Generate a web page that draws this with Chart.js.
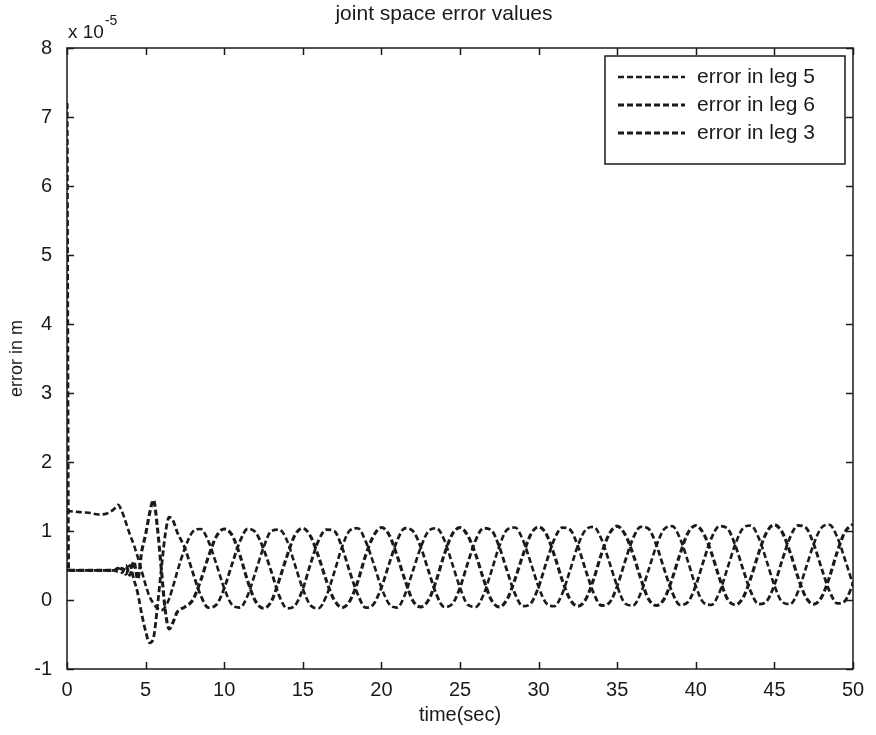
<!DOCTYPE html>
<html>
<head>
<meta charset="utf-8">
<title>joint space error values</title>
<style>
  html, body { margin: 0; padding: 0; background: #ffffff; }
  #wrap { width: 876px; height: 735px; }
</style>
<script src="https://cdn.jsdelivr.net/npm/chart.js@4.4.1/dist/chart.umd.min.js"></script>
</head>
<body>
<div id="wrap"><canvas id="errChart" width="876" height="735"></canvas></div>
<script>
// time in seconds (shared by all three legs)
const time = [
  0, 0.1, 0.5, 1, 1.5, 2, 2.5, 3, 3.25, 3.5, 3.75, 4, 4.25, 4.5, 4.75,
  5, 5.25, 5.5, 5.75, 6, 6.25, 6.5, 6.75,
  7, 7.5, 8, 8.5, 9, 9.5, 10, 10.5, 11, 11.5,
  12, 12.5, 13, 13.5, 14, 14.5, 15, 15.5, 16, 16.5,
  17, 17.5, 18, 18.5, 19, 19.5, 20, 20.5, 21, 21.5,
  22, 22.5, 23, 23.5, 24, 24.5, 25, 25.5, 26, 26.5,
  27, 27.5, 28, 28.5, 29, 29.5, 30, 30.5, 31, 31.5,
  32, 32.5, 33, 33.5, 34, 34.5, 35, 35.5, 36, 36.5,
  37, 37.5, 38, 38.5, 39, 39.5, 40, 40.5, 41, 41.5,
  42, 42.5, 43, 43.5, 44, 44.5, 45, 45.5, 46, 46.5,
  47, 47.5, 48, 48.5, 49, 49.5, 50
];

// errors, in units of 1e-5 m
const leg5 = [
  1.30, 1.29, 1.28, 1.27, 1.26, 1.24, 1.25, 1.32, 1.38, 1.28, 1.12, 0.95, 0.80, 0.62, 0.42,
  0.22, 0.05, -0.05, -0.12, -0.15, -0.10, 0.02, 0.20,
  0.40, 0.75, 0.99, 1.03, 0.85, 0.52, 0.17, -0.07, -0.11, 0.07,
  0.41, 0.76, 1.00, 1.02, 0.86, 0.51, 0.16, -0.08, -0.12, 0.06,
  0.40, 0.77, 1.01, 1.04, 0.85, 0.53, 0.18, -0.06, -0.11, 0.08,
  0.42, 0.76, 1.00, 1.04, 0.87, 0.53, 0.18, -0.07, -0.10, 0.08,
  0.42, 0.78, 1.02, 1.05, 0.87, 0.54, 0.19, -0.05, -0.09, 0.09,
  0.43, 0.79, 1.02, 1.06, 0.88, 0.55, 0.20, -0.05, -0.08, 0.10,
  0.44, 0.79, 1.03, 1.07, 0.89, 0.56, 0.20, -0.04, -0.07, 0.11,
  0.45, 0.80, 1.04, 1.08, 0.90, 0.57, 0.21, -0.03, -0.06, 0.12,
  0.46, 0.81, 1.05, 1.09, 0.91, 0.58, 0.22
];

const leg6 = [
  7.20, 0.43, 0.43, 0.43, 0.43, 0.43, 0.43, 0.43, 0.46, 0.40, 0.50, 0.36, 0.56, 0.30, 0.70,
  0.95, 1.25, 1.45, 1.05, 0.45, -0.15, -0.42, -0.32,
  -0.18, -0.10, 0.00, 0.28, 0.63, 0.92, 1.03, 0.94, 0.65, 0.27,
  -0.02, -0.12, -0.02, 0.29, 0.64, 0.94, 1.04, 0.92, 0.63, 0.28,
  0.00, -0.11, -0.01, 0.27, 0.65, 0.93, 1.05, 0.94, 0.64, 0.29,
  -0.01, -0.10, 0.00, 0.29, 0.66, 0.95, 1.05, 0.93, 0.66, 0.30,
  0.00, -0.10, 0.01, 0.30, 0.65, 0.95, 1.06, 0.95, 0.65, 0.29,
  0.01, -0.09, 0.01, 0.30, 0.67, 0.96, 1.07, 0.95, 0.67, 0.31,
  0.01, -0.08, 0.02, 0.31, 0.67, 0.97, 1.08, 0.96, 0.68, 0.32,
  0.02, -0.07, 0.03, 0.32, 0.68, 0.98, 1.09, 0.98, 0.69, 0.33,
  0.04, -0.06, 0.04, 0.33, 0.70, 0.99, 1.10
];

const leg3 = [
  0.43, 0.43, 0.43, 0.43, 0.43, 0.43, 0.43, 0.43, 0.41, 0.46, 0.37, 0.50, 0.30, 0.10, -0.20,
  -0.45, -0.62, -0.55, -0.10, 0.45, 0.95, 1.20, 1.15,
  0.99, 0.75, 0.40, 0.07, -0.11, -0.07, 0.17, 0.52, 0.85, 1.03,
  0.98, 0.74, 0.41, 0.06, -0.12, -0.08, 0.16, 0.53, 0.86, 1.02,
  1.00, 0.76, 0.40, 0.08, -0.11, -0.06, 0.18, 0.53, 0.86, 1.04,
  1.00, 0.77, 0.42, 0.08, -0.10, -0.06, 0.18, 0.54, 0.87, 1.04,
  1.01, 0.77, 0.42, 0.09, -0.09, -0.05, 0.19, 0.55, 0.88, 1.05,
  1.02, 0.78, 0.43, 0.10, -0.08, -0.04, 0.20, 0.56, 0.89, 1.06,
  1.03, 0.79, 0.44, 0.11, -0.07, -0.03, 0.21, 0.57, 0.90, 1.07,
  1.04, 0.80, 0.45, 0.12, -0.06, -0.02, 0.22, 0.58, 0.91, 1.08,
  1.05, 0.81, 0.46, 0.13, -0.05, -0.01, 0.23
];

const legendLabels = ["error in leg 5", "error in leg 6", "error in leg 3"];
const xTicks = [0, 5, 10, 15, 20, 25, 30, 35, 40, 45, 50];
const yTicks = [-1, 0, 1, 2, 3, 4, 5, 6, 7, 8];

const INK = "#1a1a1a";
const FONT = "'Liberation Sans', Arial, sans-serif";


function toPoints(values) {
  return time.map((t, i) => ({ x: t, y: values[i] }));
}


function lineSet(label, values, width) {
  return {
    label: label,
    data: toPoints(values),
    borderColor: INK,
    borderWidth: width,
    borderDash: [6, 3],
    pointRadius: 0,
    cubicInterpolationMode: "monotone",
    fill: false
  };
}


// box around the plot with inward ticks on all four sides, plus title and exponent
const matlabFrame = {
  id: "matlabFrame",
  afterDraw(chart) {
    const ctx = chart.ctx;
    const a = chart.chartArea;
    const xs = chart.scales.x;
    const ys = chart.scales.y;
    const tick = 7;

    ctx.save();
    ctx.strokeStyle = INK;
    ctx.lineWidth = 1.5;
    ctx.setLineDash([]);
    ctx.strokeRect(a.left, a.top, a.right - a.left, a.bottom - a.top);

    ctx.beginPath();
    xTicks.forEach(v => {
      const px = Math.round(xs.getPixelForValue(v)) + 0.5;
      ctx.moveTo(px, a.bottom);
      ctx.lineTo(px, a.bottom - tick);
      ctx.moveTo(px, a.top);
      ctx.lineTo(px, a.top + tick);
    });
    yTicks.forEach(v => {
      const py = Math.round(ys.getPixelForValue(v)) + 0.5;
      ctx.moveTo(a.left, py);
      ctx.lineTo(a.left + tick, py);
      ctx.moveTo(a.right, py);
      ctx.lineTo(a.right - tick, py);
    });
    ctx.stroke();

    // title
    ctx.fillStyle = INK;
    ctx.font = "21px " + FONT;
    ctx.textAlign = "center";
    ctx.textBaseline = "middle";
    ctx.fillText("joint space error values", 444, 14);

    // exponent label of the y axis
    ctx.textAlign = "left";
    ctx.textBaseline = "alphabetic";
    ctx.font = "19px " + FONT;
    ctx.fillText("x 10", a.left + 1, 38);
    const w = ctx.measureText("x 10").width;
    ctx.font = "14px " + FONT;
    ctx.fillText("-5", a.left + 2 + w, 25);
    ctx.restore();
  }
};


// legend box drawn inside the top right corner
const boxLegend = {
  id: "boxLegend",
  afterDatasetsDraw(chart) {
    const ctx = chart.ctx;
    const a = chart.chartArea;
    const boxW = 240;
    const boxH = 108;
    const bx = a.right - 8 - boxW;
    const by = a.top + 8;

    ctx.save();
    ctx.fillStyle = "#ffffff";
    ctx.fillRect(bx, by, boxW, boxH);
    ctx.strokeStyle = INK;
    ctx.lineWidth = 1.5;
    ctx.strokeRect(bx, by, boxW, boxH);

    ctx.font = "21px " + FONT;
    ctx.textAlign = "left";
    ctx.textBaseline = "middle";

    chart.data.datasets.forEach((ds, i) => {
      const ry = by + 21 + i * 28;
      ctx.beginPath();
      ctx.setLineDash(ds.borderDash);
      ctx.lineWidth = ds.borderWidth;
      ctx.strokeStyle = ds.borderColor;
      ctx.moveTo(bx + 13, ry);
      ctx.lineTo(bx + 80, ry);
      ctx.stroke();
      ctx.setLineDash([]);
      ctx.fillStyle = INK;
      ctx.fillText(ds.label, bx + 92, ry);
    });
    ctx.restore();
  }
};


const errChart = new Chart(
  document.getElementById("errChart"),
  {
    type: "line",

    data: {
      datasets: [
        lineSet(legendLabels[0], leg5, 2.6),
        lineSet(legendLabels[1], leg6, 3.1),
        lineSet(legendLabels[2], leg3, 2.8)
      ]
    },

    options: {
      responsive: false,
      animation: false,
      devicePixelRatio: 1,
      layout: {
        padding: { top: 48, right: 23, left: 0, bottom: 0 }
      },
      plugins: {
        legend: { display: false },
        tooltip: { enabled: false }
      },
      scales: {
        x: {
          type: "linear",
          min: 0,
          max: 50,
          afterBuildTicks: s => { s.ticks = xTicks.map(v => ({ value: v })); },
          afterFit: s => { s.height = 66; },
          grid: { display: false, drawTicks: false },
          border: { display: false },
          ticks: {
            color: INK,
            padding: 9,
            maxRotation: 0,
            autoSkip: false,
            font: { family: FONT, size: 20 }
          },
          title: {
            display: true,
            text: "time(sec)",
            color: INK,
            padding: { top: 6, bottom: 8 },
            font: { family: FONT, size: 20 }
          }
        },
        y: {
          type: "linear",
          min: -1,
          max: 8,
          afterBuildTicks: s => { s.ticks = yTicks.map(v => ({ value: v })); },
          afterFit: s => { s.width = 67; },
          grid: { display: false, drawTicks: false },
          border: { display: false },
          ticks: {
            color: INK,
            padding: 15,
            autoSkip: false,
            font: { family: FONT, size: 20 }
          },
          title: {
            display: true,
            text: "error in m",
            color: INK,
            padding: { top: 6, bottom: 6 },
            font: { family: FONT, size: 18 }
          }
        }
      }
    },

    plugins: [boxLegend, matlabFrame]
  }
);
</script>
</body>
</html>
